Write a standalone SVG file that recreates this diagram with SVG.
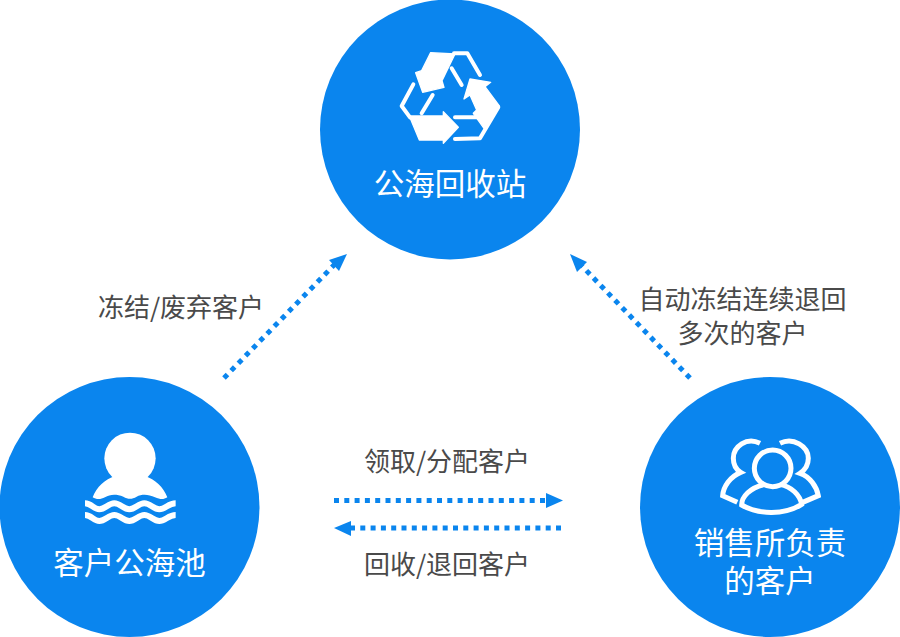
<svg xmlns="http://www.w3.org/2000/svg" width="900" height="637" viewBox="0 0 900 637">
<style>
.c{fill:#0a85ee}
.t{font-family:"Noto Sans CJK SC","Noto Sans",sans-serif;text-anchor:middle}
.n{font-size:30.500px;fill:#fff}
.l{font-size:26px;fill:#4a4a4a}
.d{fill:none;stroke:#0a85ee;stroke-width:5;stroke-dasharray:5 5.3}
.a{fill:#0a85ee}
.il{fill:none;stroke:#fff;stroke-width:12;stroke-linecap:round;stroke-linejoin:round}
.if{fill:#fff;stroke:#fff;stroke-width:4;stroke-linejoin:round}
</style>
<rect width="900" height="637" fill="#fff"/>
<g id="connectors">
<path class="d" d="M224 378L337 262"/><polygon class="a" points="347,254 339,271 329,260"/>
<path class="d" d="M690 378L580 264"/><polygon class="a" points="570,254 587,262 577,272"/>
<path class="d" d="M334 500.500H546"/><polygon class="a" points="563,500.500 546,493 546,508"/>
<path class="d" d="M561 528H351"/><polygon class="a" points="334,528 351,521 351,536"/>
</g>
<g id="node-recycle">
<circle class="c" cx="450" cy="129.500" r="130"/>
<g transform="translate(380 30) scale(.3333)">
<path class="il" d="M222 70H262L300 135M215 115L245 165M100 163L65 228L90 262M158 195L125 250M225 262H300M225 327L300 325L355 232"/>
<polygon class="if" points="152,68 225,72 186,152 192,172 128,187 107,128 125,122"/>
<polygon class="if" points="270,147 332,157 315,170 358,228 312,295 280,250 290,240 270,195 252,207"/>
<polygon class="if" points="88,258 190,258 190,245 235,292 190,340 190,330 118,330"/>
</g>
<text class="t n" x="450" y="195">公海回收站</text>
</g>
<g id="node-pool">
<circle class="c" cx="129.500" cy="507" r="130"/>
<g transform="translate(60 420) scale(.3333)">
<circle cx="210" cy="115" r="77" fill="#fff"/>
<path fill="#fff" d="M98 232C110 200 135 178 165 168H255C285 178 310 200 322 232C310 240 300 238 285 232C265 222 245 222 230 230C215 238 205 238 190 230C170 222 150 222 135 232C120 240 108 238 98 232Z"/>
<path fill="none" stroke="#fff" stroke-width="18" d="M75 250C95 250 100 268 118 268S145 250 163 250S190 268 208 268S235 250 253 250S280 268 298 268S325 250 347 250"/>
<path fill="none" stroke="#fff" stroke-width="18" d="M75 285C95 285 100 303 118 303S145 285 163 285S190 303 208 303S235 285 253 285S280 303 298 303S325 285 347 285"/>
</g>
<text class="t n" x="129.500" y="574">客户公海池</text>
</g>
<g id="node-sales">
<circle class="c" cx="770" cy="507" r="130"/>
<g transform="translate(700 425) scale(.3333)" fill="none" stroke="#fff" stroke-width="15">
<circle cx="218" cy="130" r="55"/>
<path d="M195 178C150 188 125 215 125 240C175 270 255 270 305 238C300 210 275 185 240 178"/>
<path d="M180 55C140 35 100 65 100 100C100 120 110 135 122 142C90 155 70 185 68 212L112 232"/>
<path d="M240 55C280 35 325 65 325 100C325 120 315 135 300 145C330 155 350 185 355 212L308 232"/>
</g>
<text class="t n" x="770" y="554">销售所负责<tspan x="770" dy="38">的客户</tspan></text>
</g>
<g id="labels">
<text class="t l" x="181" y="317">冻结/废弃客户</text>
<text class="t l" x="742.500" y="309">自动冻结连续退回</text>
<text class="t l" x="742.500" y="343">多次的客户</text>
<text class="t l" x="447" y="471">领取/分配客户</text>
<text class="t l" x="447" y="574">回收/退回客户</text>
</g>
</svg>
